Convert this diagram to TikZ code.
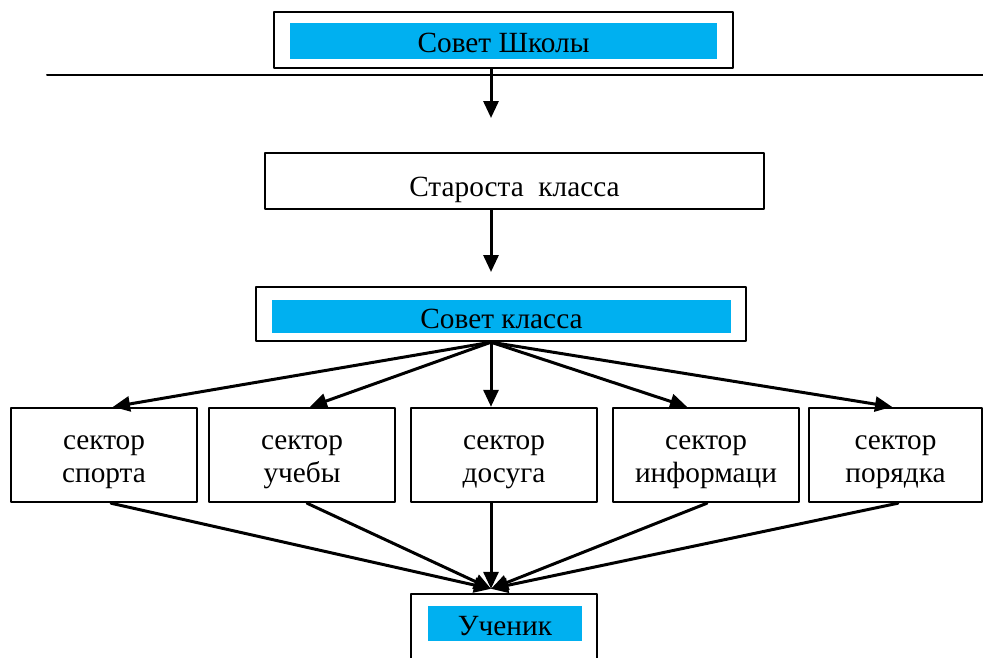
\documentclass[tikz,border=0pt]{standalone}
\usepackage{fontspec}
\setmainfont{Liberation Serif}
\usepackage{tikz}
\usetikzlibrary{positioning,arrows.meta,calc}
\definecolor{bandblue}{RGB}{0,176,240}

\begin{document}
\begin{tikzpicture}[x=1pt,y=-1pt,line cap=round,line join=round,>={Triangle[length=17pt,width=15pt]},
  box/.style={draw,line width=2.4pt,inner sep=0pt,minimum width=186pt,minimum height=94pt},
  band/.style={fill=bandblue,inner sep=0pt,text height=23pt,text depth=0pt},
  words/.style={align=center,inner sep=0pt},
  link/.style={->,line width=3pt},
  font=\fontsize{29.3}{33}\selectfont]
\useasboundingbox (0,0) rectangle (983,657);

\node[box,minimum width=459pt,minimum height=56pt] (ss) at (503.5,40) {};
\node[band,minimum width=427pt,minimum height=36pt] (ssband) at (503.5,41) {Совет Школы};
\draw[line width=2pt] (47,75) -- (983,75);

\node[box,minimum width=499pt,minimum height=56pt,text height=31pt,text depth=0pt] (st) at (514.5,181) {Староста\ \ класса};

\node[box,minimum width=490pt,minimum height=54pt] (sk) at (501,314) {};
\node[band,minimum width=459pt,minimum height=33pt] (skband) at (501.5,316.5) {Совет класса};

\node[box] (s1) at (104,455) {};
\node[box] (s2) at (302,455) {};
\node[box] (s3) at (504,455) {};
\node[box] (s4) at (706,455) {};
\node[box,minimum width=173pt] (s5) at (895.5,455) {};
\node[words] (s1t) at ([yshift=-7pt]s1.center) {сектор\\спорта};
\node[words] (s2t) at ([yshift=-7pt]s2.center) {сектор\\учебы};
\node[words] (s3t) at ([yshift=-7pt]s3.center) {сектор\\досуга};
\node[words] (s4t) at ([yshift=-7pt]s4.center) {сектор\\информаци};
\node[words] (s5t) at ([yshift=-7pt]s5.center) {сектор\\порядка};

\node[box,minimum height=90pt] (uch) at (504,639) {};
\node[band,minimum width=154pt,minimum height=35pt] (uchband) at (505,623.5) {Ученик};

\coordinate (ssout) at ([xshift=-12.5pt]ss.south);
\coordinate (ssend) at (491,118);
\coordinate (stout) at ([xshift=-23.5pt]st.south);
\coordinate (stend) at (491,272);
\coordinate (skout) at ([xshift=-10pt]sk.south);
\coordinate (uchin) at ([xshift=-13pt,yshift=4pt]uch.north);

\draw[link] (ssout) -- (ssend);
\draw[link] (stout) -- (stend);

\draw[link] (skout) -- ([xshift=9pt]s1.north);
\draw[link] (skout) -- ([xshift=8pt]s2.north);
\draw[link] (skout) -- ([xshift=-13pt]s3.north);
\draw[link] (skout) -- ([xshift=-19pt]s4.north);
\draw[link] (skout) -- ([xshift=-3.5pt]s5.north);

\draw[link] ([xshift=7pt]s1.south) -- (uchin);
\draw[link] ([xshift=5pt]s2.south) -- (uchin);
\draw[link] ([xshift=-13pt]s3.south) -- (uchin);
\draw[link] ([xshift=1pt]s4.south) -- (uchin);
\draw[link] ([xshift=2.5pt]s5.south) -- (uchin);

\end{tikzpicture}
\end{document}
